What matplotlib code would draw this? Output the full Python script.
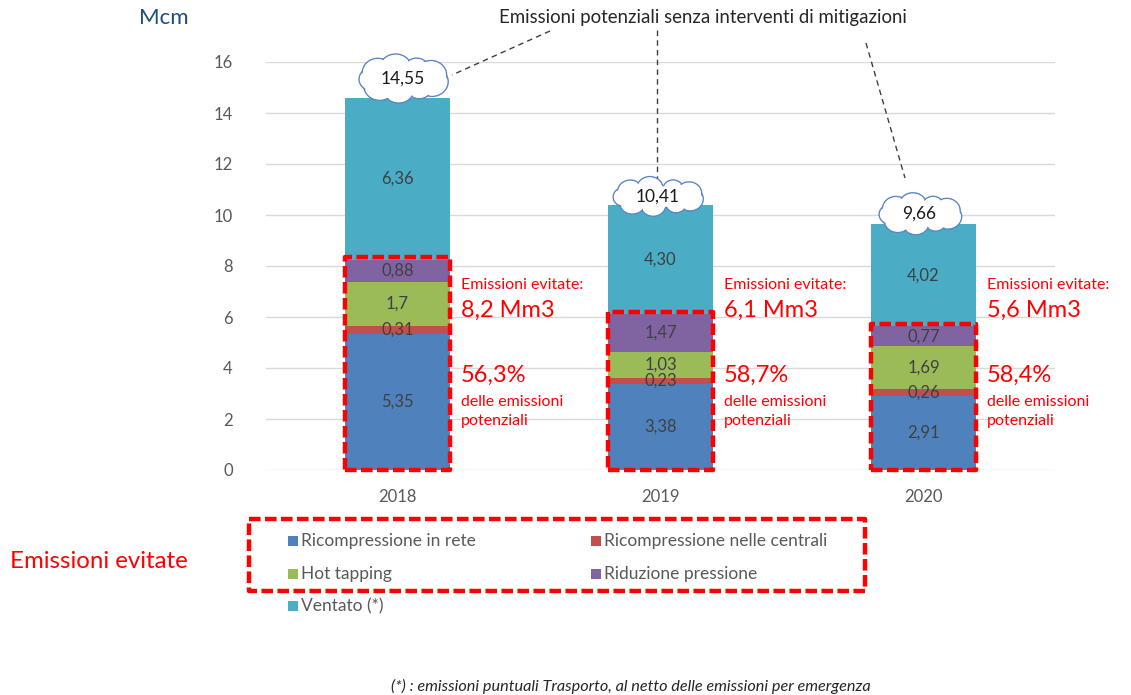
import matplotlib
matplotlib.use("Agg")
import matplotlib.pyplot as plt
from matplotlib.patches import Rectangle, Ellipse
import numpy as np

plt.rcParams['font.family'] = ['Lato', 'DejaVu Sans']

# ---- data (Mcm) ----
years = ["2018", "2019", "2020"]
ricompressione_rete = [5.35, 3.38, 2.91]
ricompressione_centrali = [0.31, 0.23, 0.26]
hot_tapping = [1.70, 1.03, 1.69]
riduzione_pressione = [0.88, 1.47, 0.77]
ventato = [6.36, 4.30, 4.02]
totals = [14.55, 10.41, 9.66]

seg_labels = [
    ["5,35", "3,38", "2,91"],
    ["0,31", "0,23", "0,26"],
    ["1,7", "1,03", "1,69"],
    ["0,88", "1,47", "0,77"],
    ["6,36", "4,30", "4,02"],
]
total_labels = ["14,55", "10,41", "9,66"]
avoided_text = ["8,2 Mm3", "6,1 Mm3", "5,6 Mm3"]
avoided_pct = ["56,3%", "58,7%", "58,4%"]

series_names = ["Ricompressione in rete", "Ricompressione nelle centrali",
                "Hot tapping", "Riduzione pressione", "Ventato (*)"]
colors = ["#4F81BD", "#C0504D", "#9BBB59", "#8064A2", "#4BACC6"]

W, H = 1131, 695
fig = plt.figure(figsize=(W / 100, H / 100), dpi=100)
fig.patch.set_facecolor("white")

# main axes placed in pixel units
ax_l, ax_r, ax_b, ax_t = 266, 1055, 470, 62
ax = fig.add_axes([ax_l / W, 1 - ax_b / H, (ax_r - ax_l) / W, (ax_b - ax_t) / H])
ax.set_xlim(-0.5, 2.5)
ax.set_ylim(0, 16)

x = np.arange(len(years))
series = [ricompressione_rete, ricompressione_centrali, hot_tapping,
          riduzione_pressione, ventato]
bottom = np.zeros(len(years))
for vals, col, labs in zip(series, colors, seg_labels):
    vals = np.array(vals)
    ax.bar(x, vals, bottom=bottom, width=0.4, color=col, zorder=2)
    for i in range(len(years)):
        ax.text(x[i], bottom[i] + vals[i] / 2, labs[i], ha="center", va="center",
                fontsize=12, color="#404040", zorder=4)
    bottom = bottom + vals

for s in ax.spines.values():
    s.set_visible(False)
ax.set_yticks(np.arange(0, 17, 2))
ax.yaxis.grid(True, color="#D9D9D9", lw=1)
ax.set_axisbelow(True)
ax.tick_params(axis="y", length=0, labelsize=12, labelcolor="#595959", pad=24)
ax.set_xticks(x)
ax.set_xticklabels(years)
ax.tick_params(axis="x", length=0, labelsize=12, labelcolor="#595959", pad=14)

# red dashed boxes around the avoided emissions
avoided = (np.array(ricompressione_rete) + np.array(ricompressione_centrali)
           + np.array(hot_tapping) + np.array(riduzione_pressione))
for i in range(len(years)):
    r = Rectangle((x[i] - 0.2, 0.0), 0.4, avoided[i] + 0.1, fill=False,
                  edgecolor="#FF0000", lw=3.2, linestyle=(0, (2.6, 1.0)),
                  joinstyle="round", capstyle="butt", zorder=5, clip_on=False)
    ax.add_patch(r)

# overlay in pixel coordinates for annotations
ov = fig.add_axes([0, 0, 1, 1], zorder=10)
ov.set_xlim(0, W)
ov.set_ylim(H, 0)
ov.axis("off")
ov.patch.set_visible(False)


def to_px(xd, yd):
    px, py = ax.transData.transform((xd, yd))
    return px, H - py


def cloud(cx, cy, w, h, n=9):
    a, b = w / 2, h / 2
    rb = h * 0.32
    bumps = []
    for k in range(n):
        t = 2 * np.pi * k / n + 0.3
        bx = cx + (a - rb * 0.9) * np.cos(t)
        by = cy + (b - rb * 0.8) * np.sin(t)
        bumps.append((bx, by, rb * (1.0 + 0.15 * np.cos(3 * t))))
    for bx, by, rr in bumps:
        ov.add_patch(Ellipse((bx, by), 2 * rr * 1.1, 2 * rr, facecolor="white",
                             edgecolor="#5B86C5", lw=1.0, zorder=11))
    for bx, by, rr in bumps:
        ov.add_patch(Ellipse((bx, by), 2 * rr * 1.1 - 2.2, 2 * rr - 2.2,
                             facecolor="white", edgecolor="none", zorder=12))
    ov.add_patch(Ellipse((cx, cy), w * 0.78, h * 0.62, facecolor="white",
                         edgecolor="none", zorder=12))


cloud_offsets = [(5, -19, 86, 42), (-3, -8, 88, 34), (-4, -10, 80, 36)]
for i in range(len(years)):
    px, py = to_px(x[i], bottom[i])
    dx, dy, cw, chh = cloud_offsets[i]
    cx, cy = px + dx, py + dy
    cloud(cx, cy, cw, chh)
    ov.text(cx, cy, total_labels[i], ha="center", va="center", fontsize=12.5,
            color="#1A1A1A", zorder=13)

# title of the clouds and leader lines
ov.text(703, 18, "Emissioni potenziali senza interventi di mitigazioni",
        ha="center", va="center", fontsize=13.4, color="#262626")
ov.plot([550, 452], [31, 75], ls=(0, (4, 3)), color="#404040", lw=1)
ov.plot([657, 657], [30, 179], ls=(0, (4, 3)), color="#404040", lw=1)
ov.plot([866, 905], [43, 178], ls=(0, (4, 3)), color="#404040", lw=1)

ov.text(164, 18, "Mcm", ha="center", va="center", fontsize=16, color="#1F4E79")

# side annotations in red
for i in range(len(years)):
    px, _ = to_px(x[i] + 0.2, 0)
    tx = px + 11
    ov.text(tx, 285, "Emissioni evitate:", ha="left", va="center", fontsize=11.5,
            color="#FF0000")
    ov.text(tx, 310, avoided_text[i], ha="left", va="center", fontsize=17,
            color="#FF0000")
    ov.text(tx, 375, avoided_pct[i], ha="left", va="center", fontsize=17,
            color="#FF0000")
    ov.text(tx, 402, "delle emissioni", ha="left", va="center", fontsize=11.5,
            color="#FF0000")
    ov.text(tx, 421, "potenziali", ha="left", va="center", fontsize=11.5,
            color="#FF0000")

# legend drawn by hand
leg_pos = [(288, 541), (591, 541), (288, 574), (591, 574), (288, 606)]
for (lx, ly), name, col in zip(leg_pos, series_names, colors):
    ov.add_patch(Rectangle((lx, ly - 5), 10, 10, facecolor=col, edgecolor="none"))
    ov.text(lx + 13, ly, name, ha="left", va="center", fontsize=12.5,
            color="#595959")

ov.add_patch(Rectangle((249, 519), 616, 72, fill=False, edgecolor="#FF0000",
                       lw=3.2, linestyle=(0, (2.6, 1.0)), joinstyle="round"))
ov.text(10, 561, "Emissioni evitate", ha="left", va="center", fontsize=17.3,
        color="#FF0000")

ov.text(631, 686, "(*) : emissioni puntuali Trasporto, al netto delle emissioni per emergenza",
        ha="center", va="center", fontsize=11.7, style="italic", color="#262626")

fig.savefig("out.png", dpi=100)
